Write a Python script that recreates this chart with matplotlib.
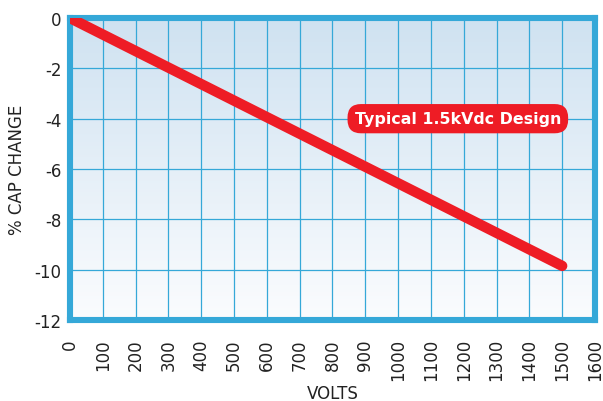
import numpy as np
import matplotlib
matplotlib.use('Agg')
import matplotlib.pyplot as plt
from matplotlib.colors import LinearSegmentedColormap

plt.rcParams['axes.unicode_minus'] = False

# Données
volts = [0, 1500]
cap_change = [0, -9.85]
x_ticks = list(range(0, 1700, 100))
y_ticks = [0, -2, -4, -6, -8, -10, -12]
label_text = 'Typical 1.5kVdc Design'

blue = '#35a8d8'
red = '#ee1c25'

fig = plt.figure(figsize=(6.03, 4.02), dpi=100)
ax = fig.add_axes([0.1161, 0.2015, 0.8706, 0.7512])

# fond dégradé bleu clair -> blanc
cmap = LinearSegmentedColormap.from_list('bg', ['#fbfcfe', '#cfe2f1'])
grad = np.linspace(0, 1, 256).reshape(-1, 1)
ax.imshow(grad, extent=[0, 1600, -12, 0], origin='lower', aspect='auto',
          cmap=cmap, zorder=0)

ax.set_xlim(0, 1600)
ax.set_ylim(-12, 0)
ax.set_xticks(x_ticks)
ax.set_yticks(y_ticks)
ax.set_xticklabels([str(v) for v in x_ticks], rotation=90, va='top', ha='center')
ax.tick_params(length=0, labelsize=12, colors='#222222')
ax.tick_params(axis='x', pad=13)
ax.tick_params(axis='y', pad=6)
ax.grid(True, color=blue, linewidth=0.9, zorder=1)
ax.set_axisbelow(False)

for side in ['left', 'bottom', 'top', 'right']:
    ax.spines[side].set_color(blue)
    ax.spines[side].set_linewidth(4.4)

ax.plot(volts, cap_change, color=red, linewidth=7.5, solid_capstyle='round', zorder=3)

ax.text(1182, -4.0, label_text, color='white', fontsize=11.4, fontweight='bold',
        ha='center', va='center', zorder=4,
        bbox=dict(boxstyle='round,pad=0.45,rounding_size=0.85', fc=red, ec='none'))

ax.set_xlabel('VOLTS', fontsize=12, color='#222222')
ax.set_ylabel('% CAP CHANGE', fontsize=12, color='#222222')
ax.xaxis.set_label_coords(0.5, -0.212)
ax.yaxis.set_label_coords(-0.084, 0.5)

plt.savefig('out.png', dpi=100)
